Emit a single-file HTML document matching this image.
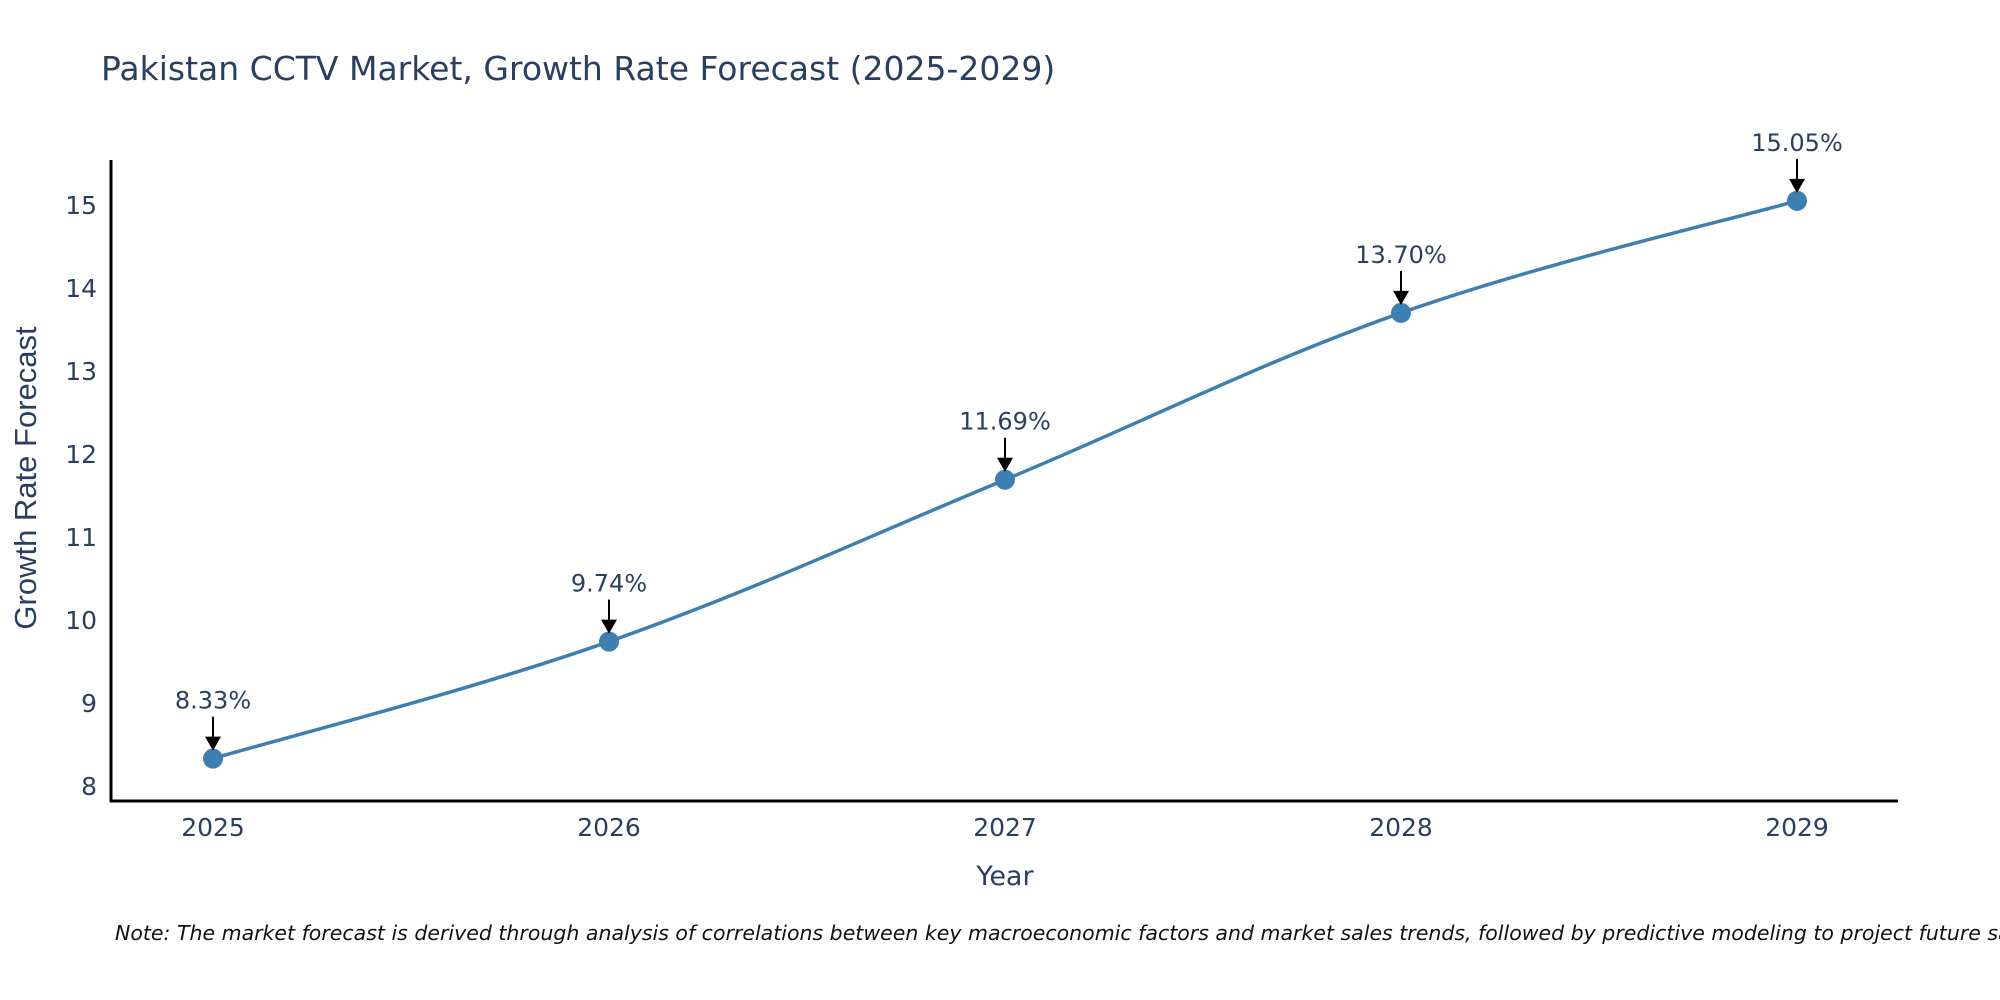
<!DOCTYPE html>
<html><head><meta charset="utf-8"><style>
body{margin:0;background:#fff;}
svg{display:block;font-family:"DejaVu Sans","Liberation Sans",sans-serif;}
</style></head><body>
<svg id="chart" width="2000" height="1000">
<text x="101" y="80" font-size="33" fill="#2a3f5f">Pakistan CCTV Market, Growth Rate Forecast (2025-2029)</text>
<g id="yticks"></g><g id="xticks"></g>
<line x1="111" y1="160" x2="111" y2="802" stroke="#000" stroke-width="3"/>
<line x1="110" y1="801" x2="1898" y2="801" stroke="#000" stroke-width="3"/>
<path id="line" fill="none" stroke="#3d7fb1" stroke-width="3.5"/>
<g id="marks"></g>
<text x="1005" y="885" font-size="27" fill="#2a3f5f" text-anchor="middle">Year</text>
<text transform="translate(36,478) rotate(-90)" font-size="31" fill="#2a3f5f" text-anchor="middle" font-family="Liberation Sans Narrow, Liberation Sans, sans-serif">Growth Rate Forecast</text>
<text x="115" y="940" font-size="20.5" font-style="italic" fill="#111">Note: The market forecast is derived through analysis of correlations between key macroeconomic factors and market sales trends, followed by predictive modeling to project future sales.</text>
</svg>
<script>
const years=[2025,2026,2027,2028,2029];
const values=[8.33,9.74,11.69,13.70,15.05];
const labels=["8.33%","9.74%","11.69%","13.70%","15.05%"];
const yTicks=[8,9,10,11,12,13,14,15];
const NS="http://www.w3.org/2000/svg";
const xS=v=>213+(v-2025)*396;
const yS=v=>786-(v-8)*83;
function mk(t,a,p){const e=document.createElementNS(NS,t);for(const k in a)e.setAttribute(k,a[k]);p.appendChild(e);return e;}
const yt=document.getElementById('yticks');
yTicks.forEach(t=>{const e=mk('text',{x:97,y:yS(t)+9,'font-size':25,fill:'#2a3f5f','text-anchor':'end'},yt);e.textContent=t;

});
const xt=document.getElementById('xticks');
years.forEach(t=>{const e=mk('text',{x:xS(t),y:836,'font-size':25,fill:'#2a3f5f','text-anchor':'middle'},xt);e.textContent=t;

});
const P=years.map((y,i)=>[xS(y),yS(values[i])]);
let d=`M${P[0][0]},${P[0][1]}`;
for(let i=0;i<P.length-1;i++){const p0=P[i-1]||P[i],p1=P[i],p2=P[i+1],p3=P[i+2]||P[i+1];const s=0.18;
d+=` C${p1[0]+(p2[0]-p0[0])*s},${p1[1]+(p2[1]-p0[1])*s} ${p2[0]-(p3[0]-p1[0])*s},${p2[1]-(p3[1]-p1[1])*s} ${p2[0]},${p2[1]}`;}
document.getElementById('line').setAttribute('d',d);
const g=document.getElementById('marks');
P.forEach((p,i)=>{
const c=mk('circle',{cx:p[0],cy:p[1],r:10,fill:'#3d7fb1'},g);


const l=mk('line',{x1:p[0],y1:p[1]-42,x2:p[0],y2:p[1]-20,stroke:'#000','stroke-width':2},g);


const h=mk('path',{d:`M${p[0]-8},${p[1]-22} L${p[0]+8},${p[1]-22} L${p[0]},${p[1]-8} Z`,fill:'#000'},g);


const t=mk('text',{x:p[0],y:p[1]-50,'font-size':24,fill:'#2a3f5f','text-anchor':'middle'},g);t.textContent=labels[i];


});
</script>
</body></html>
